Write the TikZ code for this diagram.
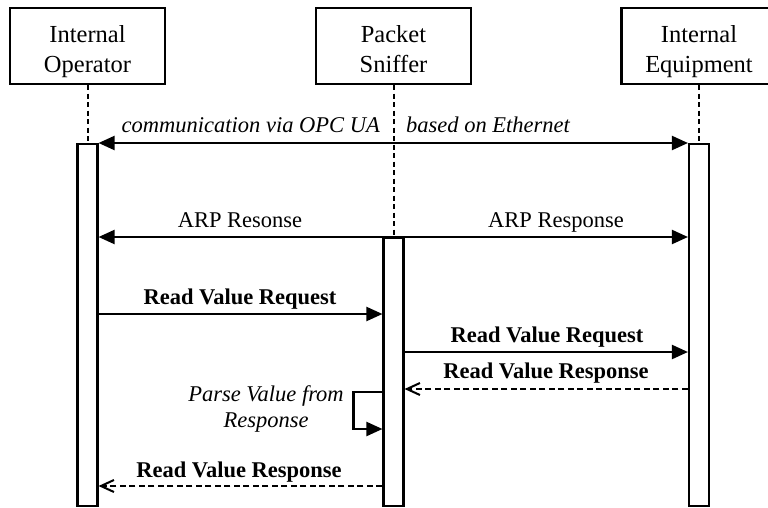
\documentclass[tikz,border=0pt]{standalone}
\usepackage{fontspec}
\setmainfont{Liberation Serif}
\usetikzlibrary{arrows.meta,calc}
\begin{document}
\begin{tikzpicture}[x=1pt,y=-1pt,
  actorbox/.style={draw,line width=2.1pt,minimum width=155pt,minimum height=76pt,inner sep=0pt},
  headtxt/.style={inner sep=0pt,align=center,font=\fontsize{24.5}{30}\selectfont},
  bar/.style={draw,line width=2.1pt,fill=white,minimum width=20pt,inner sep=0pt,anchor=north},
  life/.style={line width=2pt,dash pattern=on 5pt off 3.5pt},
  msg/.style={line width=2.1pt,-{Triangle[length=16pt,width=14pt]}},
  both/.style={line width=2.1pt,{Triangle[length=16pt,width=14pt]}-{Triangle[length=16pt,width=14pt]}},
  reply/.style={line width=2pt,dash pattern=on 6pt off 3.5pt,-{Straight Barb[length=13pt,width=12pt,line width=2pt]}},
  lbl/.style={inner sep=0pt,anchor=base,font=\fontsize{22.5}{26}\selectfont},
]
\useasboundingbox (0,0) rectangle (768,507);

% participants
\node[actorbox] (op) at (87.5,46) {};
\node[headtxt] (opT) at ($(op.center)+(0,5)$) {\strut Internal\\\strut Operator};
\node[actorbox] (ps) at (393.5,46) {};
\node[headtxt] (psT) at ($(ps.center)+(0,5)$) {\strut Packet\\\strut Sniffer};
\node[actorbox] (eq) at (699,46) {};
\node[headtxt] (eqT) at ($(eq.center)+(0,5)$) {\strut Internal\\\strut Equipment};

% activation bars
\node[bar,minimum height=362pt] (barO) at (87.5,143) {};
\node[bar,minimum height=268pt] (barS) at (393.5,237) {};
\node[bar,minimum height=362pt] (barE) at (699,143) {};

% lifelines
\draw[life] (op) -- (barO);
\draw[life] (ps) -- (barS);
\draw[life] (eq) -- (barE);

% message levels
\coordinate (m1) at (0,314);
\coordinate (m2) at (0,352);
\coordinate (m3) at (0,389);
\coordinate (m4) at (0,392);
\coordinate (m5) at (0,429);
\coordinate (m6) at (0,486);

% OPC UA link
\draw[both] (barO.north east) -- (barE.north west);
\node[lbl,anchor=base east,font=\fontsize{22.5}{26}\selectfont\itshape] (c1) at (380,132) {communication via OPC UA};
\node[lbl,anchor=base west,font=\fontsize{22.5}{26}\selectfont\itshape] (c2) at (406,132) {based on Ethernet};

% ARP
\draw[msg] (barS.north) -- (barO.east |- barS.north);
\draw[msg] (barS.north) -- (barE.west |- barS.north);
\node[lbl] (a1) at (240,227) {ARP Resonse};
\node[lbl] (a2) at (556,227) {ARP Response};

% read value exchange
\draw[msg] (barO.east |- m1) -- (barS.west |- m1);
\node[lbl,font=\fontsize{22.5}{26}\selectfont\bfseries] (r1) at (240,304) {Read Value Request};
\draw[msg] (barS.east |- m2) -- (barE.west |- m2);
\node[lbl,font=\fontsize{22.5}{26}\selectfont\bfseries] (r2) at (547,342) {Read Value Request};
\draw[reply] (barE.west |- m3) -- (barS.east |- m3);
\node[lbl,font=\fontsize{22.5}{26}\selectfont\bfseries] (r3) at (546,378) {Read Value Response};

% parsing step
\draw[msg] (barS.west |- m4) -- ++(-29,0) |- (barS.west |- m5);
\node[inner sep=0pt,align=center,font=\fontsize{22.5}{26}\selectfont\itshape] (p1) at (266,408.8) {\strut Parse Value from\\\strut Response};

\draw[reply] (barS.west |- m6) -- (barO.east |- m6);
\node[lbl,font=\fontsize{22.5}{26}\selectfont\bfseries] (r4) at (239,477) {Read Value Response};
\end{tikzpicture}
\end{document}
